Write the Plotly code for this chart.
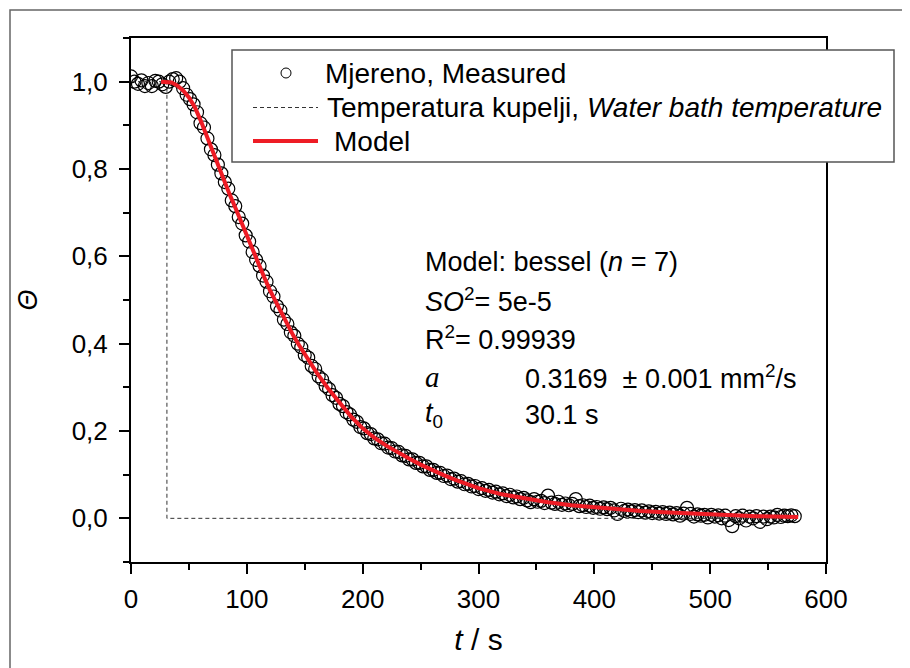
import plotly.graph_objects as go

# ---------------- data ----------------
t_meas = [
    0, 3, 6, 9, 12, 15, 18, 21, 24, 27,
    30, 33, 36, 39, 42, 45, 48, 51, 54, 57,
    60, 63, 66, 69, 72, 75, 78, 81, 84, 87,
    90, 93, 96, 99, 102, 105, 108, 111, 114, 117,
    120, 123, 126, 129, 132, 135, 138, 141, 144, 147,
    150, 153, 156, 159, 162, 165, 168, 171, 174, 177,
    180, 183, 186, 189, 192, 195, 198, 201, 204, 207,
    210, 213, 216, 219, 222, 225, 228, 231, 234, 237,
    240, 243, 246, 249, 252, 255, 258, 261, 264, 267,
    270, 273, 276, 279, 282, 285, 288, 291, 294, 297,
    300, 303, 306, 309, 312, 315, 318, 321, 324, 327,
    330, 333, 336, 339, 342, 345, 348, 351, 354, 357,
    360, 363, 366, 369, 372, 375, 378, 381, 384, 387,
    390, 393, 396, 399, 402, 405, 408, 411, 414, 417,
    420, 423, 426, 429, 432, 435, 438, 441, 444, 447,
    450, 453, 456, 459, 462, 465, 468, 471, 474, 477,
    480, 483, 486, 489, 492, 495, 498, 501, 504, 507,
    510, 513, 516, 519, 522, 525, 528, 531, 534, 537,
    540, 543, 546, 549, 552, 555, 558, 561, 564, 567,
    570, 573,
]
theta_meas = [
    1.012, 1.0, 0.995, 1.003, 0.99, 0.997, 0.99, 1.002, 1.0, 0.994,
    0.988, 1.0, 1.006, 1.008, 1.0, 0.985, 0.97, 0.96, 0.948, 0.93,
    0.905, 0.895, 0.87, 0.845, 0.832, 0.81, 0.79, 0.77, 0.755, 0.728,
    0.715, 0.69, 0.675, 0.648, 0.634, 0.61, 0.592, 0.578, 0.556, 0.542,
    0.52, 0.508, 0.486, 0.476, 0.455, 0.445, 0.426, 0.418, 0.4, 0.392,
    0.374, 0.368, 0.349, 0.342, 0.325, 0.318, 0.303, 0.296, 0.282, 0.276,
    0.262, 0.257, 0.243, 0.238, 0.226, 0.221, 0.209, 0.206, 0.195, 0.193,
    0.183, 0.181, 0.172, 0.171, 0.162, 0.161, 0.153, 0.152, 0.144, 0.143,
    0.135, 0.135, 0.127, 0.127, 0.119, 0.119, 0.111, 0.111, 0.104, 0.104,
    0.097, 0.098, 0.09, 0.091, 0.084, 0.085, 0.078, 0.079, 0.073, 0.074,
    0.067, 0.069, 0.063, 0.065, 0.059, 0.061, 0.055, 0.057, 0.051, 0.054,
    0.048, 0.05, 0.044, 0.047, 0.041, 0.037, 0.044, 0.038, 0.04, 0.035,
    0.052, 0.036, 0.033, 0.038, 0.031, 0.034, 0.03, 0.033, 0.044, 0.028,
    0.03, 0.026, 0.029, 0.024, 0.026, 0.022, 0.025, 0.021, 0.024, 0.018,
    0.01, 0.022, 0.017, 0.02, 0.016, 0.019, 0.014, 0.018, 0.013, 0.016,
    0.012, 0.015, 0.011, 0.014, 0.01, 0.013, 0.009, 0.012, 0.006, 0.011,
    0.024, 0.01, 0.004, 0.009, 0.006, 0.008, 0.002, 0.008, 0.004, 0.007,
    0.0, 0.006, -0.004, -0.018, 0.005, 0.0, 0.006, -0.005, 0.004, 0.0,
    0.005, -0.008, 0.004, -0.002, 0.004, 0.002, 0.008, 0.003, 0.006, 0.005,
    0.007, 0.005,
]

t_bath = [0, 31, 31, 575]
theta_bath = [1.0, 1.0, 0.0, 0.0]

t_model = [26, 30, 35, 40, 45, 50, 55, 60, 65, 70, 75, 80, 85, 90, 95, 100,
           105, 110, 115, 120, 125, 130, 135, 140, 145, 150, 160, 170, 180,
           190, 200, 210, 220, 230, 240, 250, 260, 270, 280, 290, 300, 320,
           340, 360, 380, 400, 420, 440, 460, 480, 500, 520, 540, 560, 576]
theta_model = [1.0, 1.0, 0.998, 0.991, 0.98, 0.964, 0.942, 0.912, 0.877, 0.843,
               0.808, 0.774, 0.743, 0.712, 0.679, 0.645, 0.613, 0.582, 0.552,
               0.522, 0.495, 0.468, 0.443, 0.419, 0.397, 0.376, 0.335, 0.298,
               0.264, 0.233, 0.206, 0.185, 0.167, 0.151, 0.137, 0.123, 0.110,
               0.099, 0.088, 0.078, 0.069, 0.055, 0.045, 0.037, 0.030, 0.025,
               0.021, 0.017, 0.014, 0.011, 0.009, 0.007, 0.005, 0.004, 0.003]

x_range = [0, 600]
y_range = [-0.1, 1.1]

legend_labels = ["Mjereno, Measured",
                 "Temperatura kupelji, <i>Water bath temperature</i>",
                 "Model"]

fit_lines = ["Model: bessel (<i>n</i> = 7)",
             "<i>SO</i><sup>2</sup>= 5e-5",
             "R<sup>2</sup>= 0.99939"]
param_names = ["<i>a</i>", "<i>t</i><sub>0</sub>"]
param_values = ["0.3169  ± 0.001 mm<sup>2</sup>/s", "30.1 s"]

assert len(t_meas) == len(theta_meas)

FONT = "Arial, Liberation Sans, sans-serif"
SERIF = "Times New Roman, Liberation Serif, serif"
RED = "#ee1c25"

W, H = 910, 668
OFF = 8                       # page offset of the figure (body margin)
L, R, T, B = 131, 826, 38, 562  # plot area in page pixels


def px(x):
    return (x - L) / (R - L)


def py(y):
    return (B - y) / (B - T)


fig = go.Figure()
fig.add_trace(go.Scatter(
    x=t_meas, y=theta_meas, mode="markers", name=legend_labels[0],
    marker=dict(symbol="circle-open", size=13, color="black",
                line=dict(width=1.2, color="black"))))
fig.add_trace(go.Scatter(
    x=t_bath, y=theta_bath, mode="lines", name="Temperatura kupelji",
    line=dict(color="#333333", width=1, dash="4px,3px")))
fig.add_trace(go.Scatter(
    x=t_model, y=theta_model, mode="lines", name="Model",
    line=dict(color=RED, width=4)))

axis_common = dict(
    showgrid=False, zeroline=False, showline=True, linecolor="black",
    linewidth=2, mirror=True, ticks="outside", ticklen=10, tickwidth=2,
    tickcolor="black", tickfont=dict(family=FONT, size=26, color="black"),
)

fig.update_xaxes(
    range=x_range, tick0=0, dtick=100, ticklabelstandoff=3,
    minor=dict(ticks="outside", ticklen=6, tickwidth=2, tickcolor="black",
               dtick=50, tick0=0, showgrid=False),
    title=dict(text="<i>t</i> / s", font=dict(family=FONT, size=30, color="black"),
               standoff=16),
    **axis_common)
fig.update_yaxes(
    range=y_range, tick0=0, dtick=0.2, tickformat=".1f", ticklabelstandoff=6,
    minor=dict(ticks="outside", ticklen=6, tickwidth=2, tickcolor="black",
               dtick=0.1, tick0=0, showgrid=False),
    title=dict(text="<i>Θ</i>", font=dict(family=FONT, size=27, color="black"),
               standoff=26),
    **axis_common)

shapes = []
# outer frame of the figure
shapes.append(dict(type="rect", xref="paper", yref="paper",
                   x0=px(10), x1=px(960), y0=py(10), y1=py(720),
                   line=dict(color="#666666", width=1.5), layer="below"))
# legend box
shapes.append(dict(type="rect", xref="paper", yref="paper",
                   x0=px(232), x1=px(894), y0=py(162), y1=py(50),
                   fillcolor="white", line=dict(color="#555555", width=1.5),
                   layer="above"))
# legend samples
shapes.append(dict(type="circle", xref="paper", yref="paper",
                   xsizemode="pixel", ysizemode="pixel",
                   xanchor=px(286), yanchor=py(73),
                   x0=-5, x1=5, y0=-5, y1=5,
                   line=dict(color="black", width=1), layer="above"))
shapes.append(dict(type="line", xref="paper", yref="paper",
                   x0=px(253), x1=px(318), y0=py(107.5), y1=py(107.5),
                   line=dict(color="#333333", width=1, dash="4px,3px"),
                   layer="above"))
shapes.append(dict(type="line", xref="paper", yref="paper",
                   x0=px(253), x1=px(318), y0=py(141), y1=py(141),
                   line=dict(color=RED, width=4), layer="above"))

annotations = []
leg_x = [323, 325, 332]
leg_y = [73, 107.5, 141]
for lab, lx, ly in zip(legend_labels, leg_x, leg_y):
    annotations.append(dict(text=lab, xref="paper", yref="paper",
                            x=px(lx), y=py(ly), xanchor="left",
                            yanchor="middle", showarrow=False,
                            font=dict(family=FONT, size=28, color="black")))

fit_y = [262, 300, 338]
for txt, ty in zip(fit_lines, fit_y):
    annotations.append(dict(text=txt, xref="paper", yref="paper",
                            x=px(423), y=py(ty), xanchor="left",
                            yanchor="middle", showarrow=False,
                            font=dict(family=FONT, size=27, color="black")))
par_y = [377, 415]
for name, val, ty in zip(param_names, param_values, par_y):
    fnt = dict(family=SERIF, size=29, color="black") if name == "<i>a</i>" \
        else dict(family=FONT, size=27, color="black")
    annotations.append(dict(text=name, xref="paper", yref="paper",
                            x=px(423), y=py(ty), xanchor="left",
                            yanchor="middle", showarrow=False, font=fnt))
    annotations.append(dict(text=val, xref="paper", yref="paper",
                            x=px(523), y=py(ty), xanchor="left",
                            yanchor="middle", showarrow=False,
                            font=dict(family=FONT, size=27, color="black")))

fig.update_layout(
    width=W, height=H,
    margin=dict(l=L - OFF, r=W - (R - OFF), t=T - OFF, b=H - (B - OFF),
                pad=0, autoexpand=False),
    plot_bgcolor="white", paper_bgcolor="white",
    separators=",.",
    showlegend=False,
    shapes=shapes, annotations=annotations,
    font=dict(family=FONT, color="black"),
)

fig.write_html("out.html")
